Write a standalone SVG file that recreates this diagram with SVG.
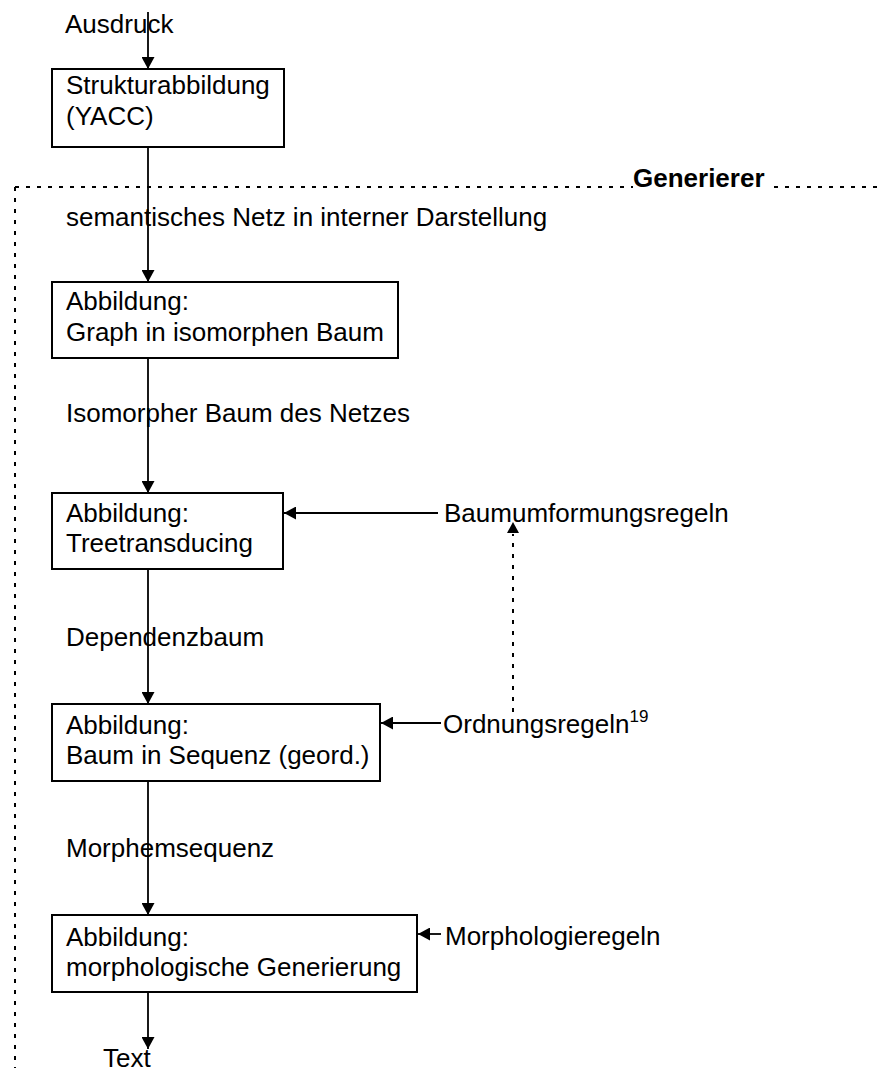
<svg xmlns="http://www.w3.org/2000/svg" width="883" height="1068" viewBox="0 0 883 1068">
  <style>
    text { font-family: "Liberation Sans", Arial, sans-serif; font-size: 26px; fill: #000; }
    .title { font-weight: bold; }
    .sup { font-size: 17px; }
    .box { fill: #fff; stroke: #000; stroke-width: 2; }
    .flow { stroke: #000; stroke-width: 1.8; fill: none; }
    .dotted { stroke: #000; stroke-width: 2; fill: none; stroke-dasharray: 4 7; }
  </style>
  <defs>
    <marker id="arrow" markerUnits="userSpaceOnUse" markerWidth="13" markerHeight="13" viewBox="0 0 13 13" refX="12" refY="6.5" orient="auto">
      <path d="M0,0 L12,6.5 L0,13 Z" fill="#000"/>
    </marker>
  </defs>

  <!-- generator frame -->
  <g id="frame">
    <path class="dotted" d="M15,187 H883 M15,187 V1068"/>
    <rect x="633" y="168" width="134" height="26" fill="#fff"/>
    <text class="title" x="633" y="187">Generierer</text>
  </g>

  <!-- connectors -->
  <g id="connectors">
    <line class="flow" x1="148" y1="12" x2="148" y2="69" marker-end="url(#arrow)"/>
    <line class="flow" x1="148" y1="147" x2="148" y2="282" marker-end="url(#arrow)"/>
    <line class="flow" x1="148" y1="358" x2="148" y2="493" marker-end="url(#arrow)"/>
    <line class="flow" x1="148" y1="569" x2="148" y2="704" marker-end="url(#arrow)"/>
    <line class="flow" x1="148" y1="781" x2="148" y2="915" marker-end="url(#arrow)"/>
    <line class="flow" x1="148" y1="992" x2="148" y2="1049" marker-end="url(#arrow)"/>
    <line class="flow" x1="438" y1="513" x2="284" y2="513" marker-end="url(#arrow)"/>
    <line class="flow" x1="441" y1="723" x2="381" y2="723" marker-end="url(#arrow)"/>
    <line class="flow" x1="441" y1="934" x2="418" y2="934" marker-end="url(#arrow)"/>
    <line class="dotted" x1="513" y1="712" x2="513" y2="534"/>
    <path d="M507,533 L513,522 L519,533 Z" fill="#000"/>
  </g>

  <!-- edge labels -->
  <g id="labels">
    <text x="65" y="33">Ausdruck</text>
    <text x="66" y="226">semantisches Netz in interner Darstellung</text>
    <text x="66" y="422">Isomorpher Baum des Netzes</text>
    <text x="66" y="646">Dependenzbaum</text>
    <text x="66" y="857">Morphemsequenz</text>
    <text x="103" y="1067">Text</text>
  </g>

  <g id="node-struktur">
    <rect class="box" x="52" y="69" width="232" height="78"/>
    <text x="66" y="94">Strukturabbildung</text>
    <text x="66" y="125">(YACC)</text>
  </g>

  <g id="node-graph">
    <rect class="box" x="52" y="282" width="346" height="76"/>
    <text x="66" y="310">Abbildung:</text>
    <text x="66" y="341">Graph in isomorphen Baum</text>
  </g>

  <g id="node-tree">
    <rect class="box" x="52" y="493" width="231" height="76"/>
    <text x="66" y="522">Abbildung:</text>
    <text x="66" y="552">Treetransducing</text>
  </g>

  <g id="node-sequence">
    <rect class="box" x="52" y="704" width="328" height="77"/>
    <text x="66" y="734">Abbildung:</text>
    <text x="66" y="764">Baum in Sequenz (geord.)</text>
  </g>

  <g id="node-morph">
    <rect class="box" x="52" y="915" width="365" height="77"/>
    <text x="66" y="946">Abbildung:</text>
    <text x="66" y="976">morphologische Generierung</text>
  </g>

  <g id="rule-baum">
    <text x="444" y="522">Baumumformungsregeln</text>
  </g>

  <g id="rule-ordnung">
    <text x="443" y="733">Ordnungsregeln<tspan class="sup" dy="-11">19</tspan></text>
  </g>

  <g id="rule-morph">
    <text x="445" y="945">Morphologieregeln</text>
  </g>
</svg>
